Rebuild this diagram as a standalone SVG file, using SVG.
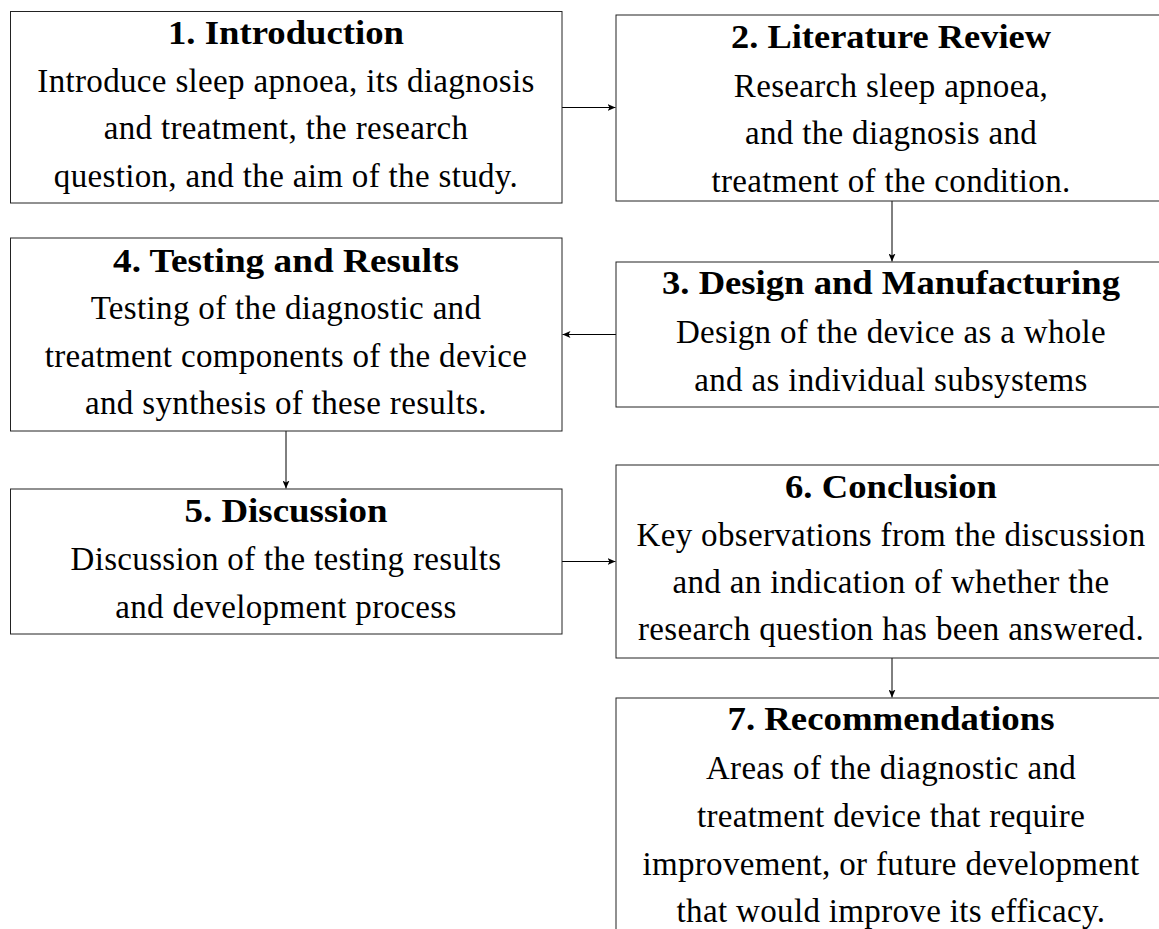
<svg xmlns="http://www.w3.org/2000/svg" width="1159" height="929" viewBox="0 0 1159 929">
<style>
.box{fill:#fff;stroke:#222;stroke-width:1}
.t{font-family:"Liberation Serif","Times New Roman",serif;font-size:33px;fill:#000;text-anchor:middle}
.b{font-weight:bold}
.r{letter-spacing:0.34px}
.c{stroke:#000;stroke-width:1;fill:none;marker-end:url(#ah)}
</style>
<defs>
<marker id="ah" markerUnits="userSpaceOnUse" markerWidth="9" markerHeight="7" refX="8" refY="3.5" orient="auto">
<path d="M0,0 L8,3.5 L0,7 L2,3.5 z" fill="#000"/>
</marker>
</defs>
<rect x="0" y="0" width="1159" height="929" fill="#fff"/>
<g id="connectors">
<line class="c" x1="562" y1="107.5" x2="615.5" y2="107.5"/>
<line class="c" x1="892" y1="201" x2="892" y2="261.5"/>
<line class="c" x1="616" y1="334.5" x2="562.5" y2="334.5"/>
<line class="c" x1="286" y1="431" x2="286" y2="488.5"/>
<line class="c" x1="562" y1="561.5" x2="615.5" y2="561.5"/>
<line class="c" x1="892" y1="658" x2="892" y2="697.5"/>
</g>
<g id="n1">
<rect class="box" x="10.5" y="11.5" width="551.5" height="191.5"/>
<text class="t b" x="286" y="44" textLength="236" lengthAdjust="spacingAndGlyphs">1. Introduction</text>
<text class="t r" x="286" y="91.5">Introduce sleep apnoea, its diagnosis</text>
<text class="t r" x="286" y="139">and treatment, the research</text>
<text class="t r" x="286" y="187">question, and the aim of the study.</text>
</g>
<g id="n2">
<rect class="box" x="616" y="15" width="552" height="186"/>
<text class="t b" x="891" y="48" textLength="320" lengthAdjust="spacingAndGlyphs">2. Literature Review</text>
<text class="t r" x="891" y="96.5">Research sleep apnoea,</text>
<text class="t r" x="891" y="143.5">and the diagnosis and</text>
<text class="t r" x="891" y="191.7">treatment of the condition.</text>
</g>
<g id="n3">
<rect class="box" x="616" y="262" width="552" height="145"/>
<text class="t b" x="891" y="293.5" textLength="458" lengthAdjust="spacingAndGlyphs">3. Design and Manufacturing</text>
<text class="t r" x="891" y="342.7">Design of the device as a whole</text>
<text class="t r" x="891" y="390.7">and as individual subsystems</text>
</g>
<g id="n4">
<rect class="box" x="10.5" y="238" width="551.5" height="193"/>
<text class="t b" x="286" y="271.7" textLength="346" lengthAdjust="spacingAndGlyphs">4. Testing and Results</text>
<text class="t r" x="286" y="319.3">Testing of the diagnostic and</text>
<text class="t r" x="286" y="367.3">treatment components of the device</text>
<text class="t r" x="286" y="414.3">and synthesis of these results.</text>
</g>
<g id="n5">
<rect class="box" x="10.5" y="489" width="551.5" height="145"/>
<text class="t b" x="286" y="522" textLength="203" lengthAdjust="spacingAndGlyphs">5. Discussion</text>
<text class="t r" x="286" y="570">Discussion of the testing results</text>
<text class="t r" x="286" y="617.5">and development process</text>
</g>
<g id="n6">
<rect class="box" x="616" y="465" width="552" height="193"/>
<text class="t b" x="891" y="498" textLength="212" lengthAdjust="spacingAndGlyphs">6. Conclusion</text>
<text class="t r" x="891" y="546">Key observations from the discussion</text>
<text class="t r" x="891" y="593">and an indication of whether the</text>
<text class="t r" x="891" y="640">research question has been answered.</text>
</g>
<g id="n7">
<rect class="box" x="616" y="698" width="552" height="260"/>
<text class="t b" x="891" y="730" textLength="327" lengthAdjust="spacingAndGlyphs">7. Recommendations</text>
<text class="t r" x="891" y="779">Areas of the diagnostic and</text>
<text class="t r" x="891" y="827">treatment device that require</text>
<text class="t r" x="891" y="875">improvement, or future development</text>
<text class="t r" x="891" y="922">that would improve its efficacy.</text>
</g>
</svg>
